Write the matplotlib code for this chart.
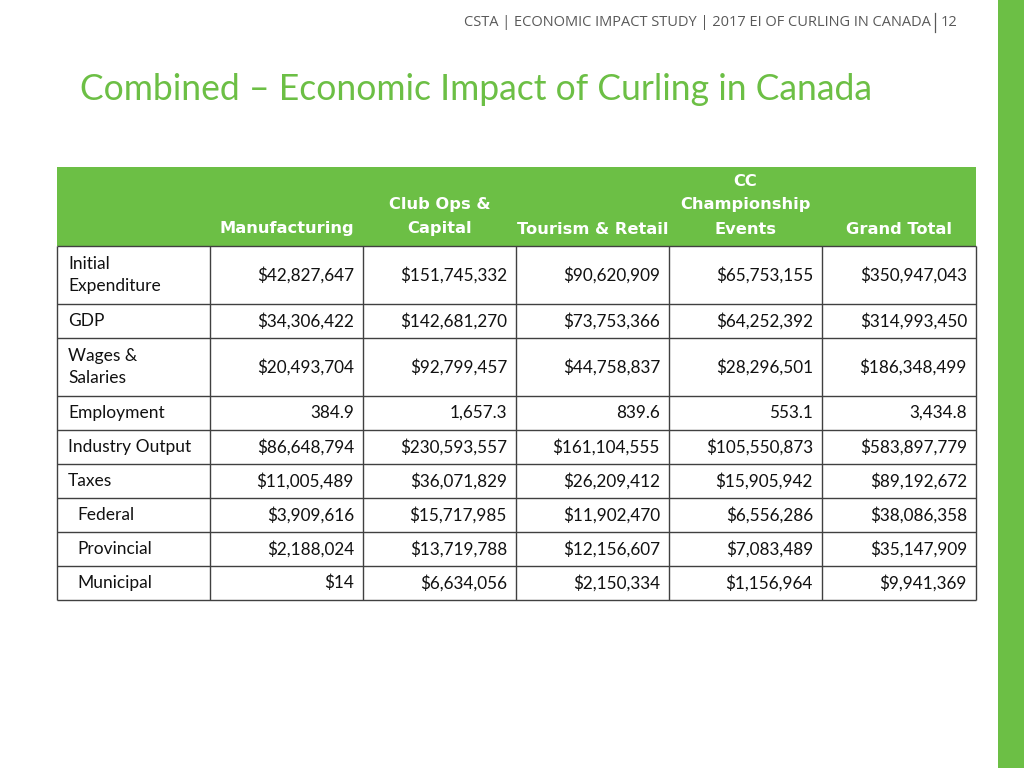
import matplotlib
matplotlib.use("Agg")
import matplotlib.pyplot as plt
from matplotlib.patches import Rectangle

# ---- data ----
columns = ["Manufacturing", "Club Ops &\nCapital", "Tourism & Retail",
           "CC\nChampionship\nEvents", "Grand Total"]
row_labels = ["Initial\nExpenditure", "GDP", "Wages &\nSalaries", "Employment",
              "Industry Output", "Taxes", "Federal", "Provincial", "Municipal"]
row_indent = [False, False, False, False, False, False, True, True, True]
manufacturing = [42827647, 34306422, 20493704, 384.9, 86648794, 11005489, 3909616, 2188024, 14]
club_ops = [151745332, 142681270, 92799457, 1657.3, 230593557, 36071829, 15717985, 13719788, 6634056]
tourism = [90620909, 73753366, 44758837, 839.6, 161104555, 26209412, 11902470, 12156607, 2150334]
cc_events = [65753155, 64252392, 28296501, 553.1, 105550873, 15905942, 6556286, 7083489, 1156964]
grand_total = [350947043, 314993450, 186348499, 3434.8, 583897779, 89192672, 38086358, 35147909, 9941369]
count_rows = ["Employment"]

title = "Combined \u2013 Economic Impact of Curling in Canada"
header_note = "CSTA | ECONOMIC IMPACT STUDY | 2017 EI OF CURLING IN CANADA"
page_no = "12"

GREEN = "#6CBF45"
GRID = "#404040"
BODY_FONT = "Lato"

fig = plt.figure(figsize=(10.24, 7.68), dpi=100)
ax = fig.add_axes([0, 0, 1, 1])
ax.set_xlim(0, 1024)
ax.set_ylim(768, 0)
ax.axis("off")

# right green bar
ax.add_patch(Rectangle((998, 0), 26, 768, color=GREEN, lw=0))

# top note
ax.text(931, 22, header_note, ha="right", va="center", fontsize=10.5,
        color="#595959", family="Open Sans")
ax.plot([934.5, 934.5], [13, 32], color="#595959", lw=0.9)
ax.text(941, 22, page_no, ha="left", va="center", fontsize=10.5,
        color="#595959", family="Open Sans")

# title
ax.text(80, 90, title, ha="left", va="center", fontsize=25.6, color=GREEN,
        family=BODY_FONT)

# table geometry
col_edges = [57, 210, 363, 516, 669, 822, 976]
row_edges = [246, 304, 338, 396, 430, 464, 498, 532, 566, 600]
head_top = 167

ax.add_patch(Rectangle((col_edges[0], head_top), col_edges[-1] - col_edges[0],
                       row_edges[0] - head_top, color=GREEN, lw=0))

# header text
for j, name in enumerate(columns):
    cx = (col_edges[j + 1] + col_edges[j + 2]) / 2
    lines = name.split("\n")
    for k, line in enumerate(reversed(lines)):
        ax.text(cx, 229 - 24 * k, line, ha="center", va="center",
                fontsize=11.7, fontweight="bold", color="white",
                family="DejaVu Sans")

series = [manufacturing, club_ops, tourism, cc_events, grand_total]

def fmt(v, label):
    if label in count_rows:
        return f"{v:,.1f}"
    return f"${int(v):,}"

for i, label in enumerate(row_labels):
    cy = (row_edges[i] + row_edges[i + 1]) / 2
    lx = col_edges[0] + (20 if row_indent[i] else 11)
    ax.text(lx, cy, label, ha="left", va="center", fontsize=12.5,
            color="#111111", family=BODY_FONT, linespacing=1.42)
    for j, s in enumerate(series):
        ax.text(col_edges[j + 2] - 9, cy, fmt(s[i], label), ha="right",
                va="center", fontsize=12.3, color="#111111", family=BODY_FONT)

# grid lines
for y in row_edges:
    ax.plot([col_edges[0], col_edges[-1]], [y, y], color=GRID, lw=1.0,
            solid_capstyle="butt")
for x in col_edges:
    ax.plot([x, x], [row_edges[0], row_edges[-1]], color=GRID, lw=1.0,
            solid_capstyle="butt")

fig.savefig("out.png", dpi=100)
